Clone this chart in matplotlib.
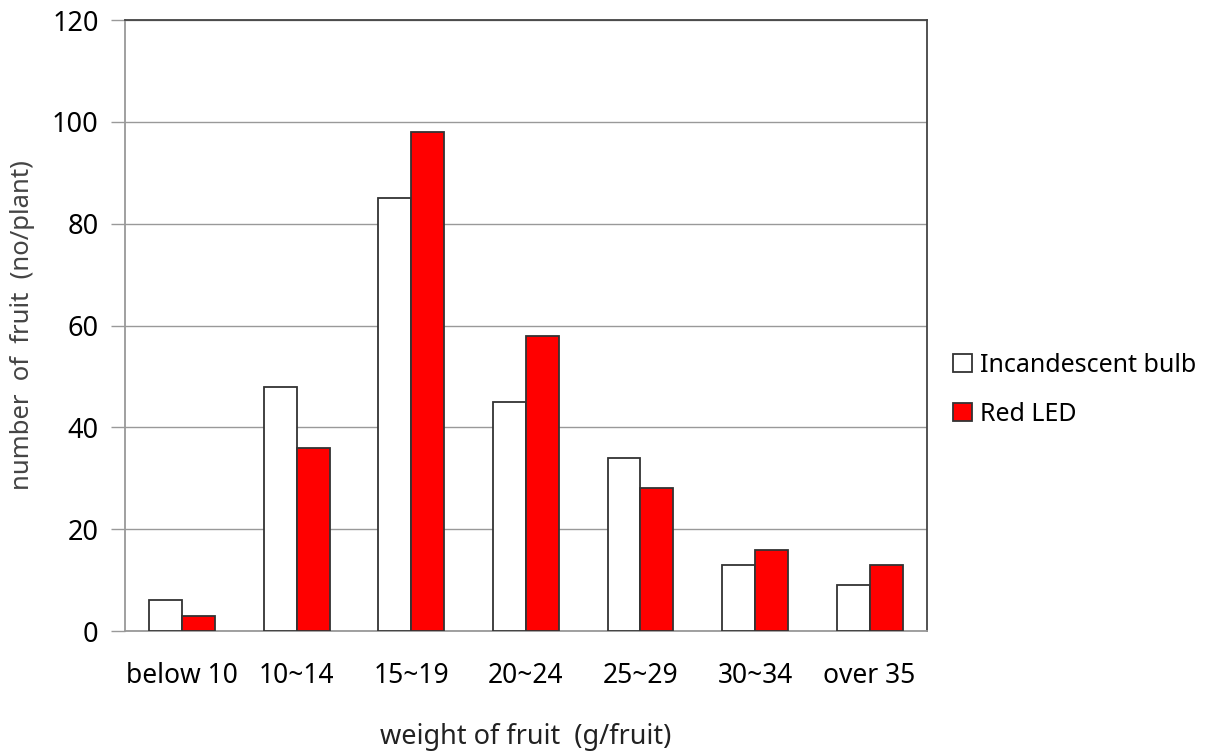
import matplotlib
matplotlib.use("Agg")
import matplotlib.pyplot as plt
import numpy as np

categories = ["below 10", "10~14", "15~19", "20~24", "25~29", "30~34", "over 35"]
incandescent = [6, 48, 85, 45, 34, 13, 9]
red_led = [3, 36, 98, 58, 28, 16, 13]
yticks = [0, 20, 40, 60, 80, 100, 120]

plt.rcParams['font.family'] = ['Noto Sans', 'DejaVu Sans']

fig = plt.figure(figsize=(12.18, 7.55), dpi=100)
ax = fig.add_axes([0.1026, 0.1642, 0.6584, 0.8093])

x = np.arange(len(categories))
w = 0.288
ax.bar(x - w/2, incandescent, w, color='white', edgecolor='#333333', linewidth=1.3,
       label='Incandescent bulb', zorder=3)
ax.bar(x + w/2, red_led, w, color='#ff0000', edgecolor='#333333', linewidth=1.3,
       label='Red LED', zorder=3)

ax.set_xlim(-0.5, len(categories) - 0.5)
ax.set_ylim(0, 120)
ax.set_yticks(yticks)
ax.set_xticks(x)
ax.set_xticklabels(categories)
ax.grid(axis='y', color='#999999', linewidth=1.0, zorder=0)
ax.tick_params(axis='x', length=0, pad=22, labelsize=19)
ax.tick_params(axis='y', length=10, width=1, color='#999999', labelsize=19.5, pad=9)
for s in ['left', 'bottom']:
    ax.spines[s].set_color('#999999')
    ax.spines[s].set_linewidth(1.3)
for s in ['top', 'right']:
    ax.spines[s].set_color('#444444')
    ax.spines[s].set_linewidth(1.3)

ax.set_xlabel('weight of fruit  (g/fruit)', fontsize=19.5, color='#222222', labelpad=24)
ax.set_ylabel('number  of  fruit  (no/plant)', fontsize=18.5, color='#444444', labelpad=12)

ax.legend(loc='center left', bbox_to_anchor=(1.005, 0.395), frameon=False, fontsize=18,
          handlelength=0.75, handleheight=0.75, handletextpad=0.3, labelspacing=0.95)

fig.savefig('out.png', dpi=100)
